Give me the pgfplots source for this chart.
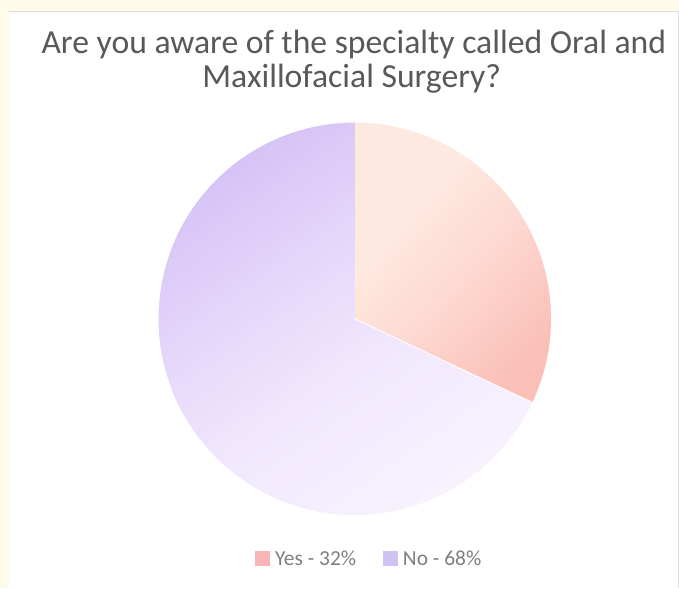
\documentclass[border=0pt]{standalone}
\usepackage{pgfplots}
\usepackage{pgfplotstable}
\pgfplotsset{compat=1.18}
\usepackage{fontspec}
\setmainfont{Carlito}
\definecolor{titlegray}{HTML}{595959}
\definecolor{leggray}{HTML}{7F7F7F}
\definecolor{bandyellow}{HTML}{FFFBEA}
\definecolor{yeslight}{HTML}{FEE9E0}
\definecolor{yesmid}{HTML}{FDDAD2}
\definecolor{yesdark}{HTML}{FAC0B8}
\definecolor{nodark}{HTML}{D5C1F5}
\definecolor{nomid}{HTML}{E4D5FA}
\definecolor{nomid2}{HTML}{F1E8FD}
\definecolor{nolight}{HTML}{F8F3FE}
\definecolor{yesleg}{HTML}{F8B4B6}
\definecolor{noleg}{HTML}{CEC3F2}
\pgfdeclareverticalshading{noshade}{100bp}{color(0bp)=(nolight); color(25bp)=(nolight); color(44bp)=(nomid2); color(60bp)=(nomid); color(75bp)=(nodark); color(100bp)=(nodark)}
\pgfdeclareverticalshading{yesshade}{100bp}{color(0bp)=(yesdark); color(25bp)=(yesdark); color(47bp)=(yesmid); color(64bp)=(yeslight); color(75bp)=(yeslight); color(100bp)=(yeslight)}
\pgfplotstableread{
label value
Yes 32
No 68
}\piedata
\begin{document}
\begin{tikzpicture}
\pgfplotstablegetelem{0}{value}\of\piedata\let\yesval\pgfplotsretval
\pgfplotstablegetelem{1}{value}\of\piedata\let\noval\pgfplotsretval
\pgfmathsetmacro{\angA}{90-3.6*\yesval}
\pgfmathsetmacro{\angB}{\angA-3.6*\noval}
\begin{axis}[
  width=679bp, height=588bp, scale only axis,
  xmin=0, xmax=679, ymin=0, ymax=588,
  axis lines=none, clip=false,
]
\fill[white] (axis cs:0,0) rectangle (axis cs:679,588);
\fill[bandyellow] (axis cs:0,0) rectangle (axis cs:9,588);
\fill[bandyellow] (axis cs:0,577) rectangle (axis cs:679,588);
\draw[gray!25, line width=0.8bp] (axis cs:9,577) -- (axis cs:679,577);
\draw[gray!25, line width=0.8bp] (axis cs:678.5,577) -- (axis cs:678.5,0);
% pie
\path[shading=yesshade, shading angle=48]
  (axis cs:355,269) -- ++(90:197bp) arc[start angle=90, end angle=\angA, radius=197bp] -- cycle;
\path[shading=noshade, shading angle=35]
  (axis cs:355,269) -- ++(\angA:197bp) arc[start angle=\angA, end angle=\angB, radius=197bp] -- cycle;
\draw[white, line width=1.2bp] (axis cs:355,269) circle[radius=197bp];
\draw[white, line width=0.8bp] (axis cs:355,269) -- ++(\angA:197bp);
% title
\node[anchor=base, text=titlegray, font=\fontsize{33.8}{38}\selectfont, inner sep=0pt] at (axis cs:354,534) {Are you aware of the specialty called Oral and};
\node[anchor=base, text=titlegray, font=\fontsize{33.8}{38}\selectfont, inner sep=0pt] at (axis cs:352,500) {Maxillofacial Surgery?};
% legend
\fill[yesleg] (axis cs:255,22) rectangle (axis cs:270,37);
\node[anchor=base west, text=leggray, font=\fontsize{21.5}{25}\selectfont, inner sep=0pt] at (axis cs:275,22) {Yes - 32\%};
\fill[noleg] (axis cs:383,22) rectangle (axis cs:398,37);
\node[anchor=base west, text=leggray, font=\fontsize{21.5}{25}\selectfont, inner sep=0pt] at (axis cs:403,22) {No - 68\%};
\end{axis}
\end{tikzpicture}
\end{document}
